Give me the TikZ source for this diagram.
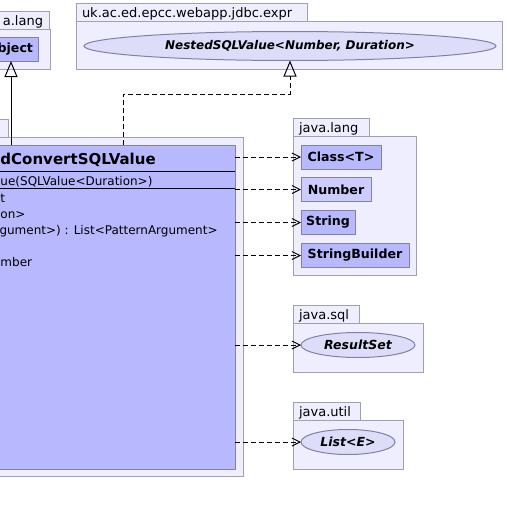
\documentclass[tikz,border=0pt]{standalone}
\usepackage{fontspec}
\setmainfont{DejaVu Sans}
\usetikzlibrary{arrows.meta,positioning,shapes}
\definecolor{pkg-color}{RGB}{238,238,255}
\definecolor{pkg-line}{RGB}{160,160,180}
\definecolor{cls-color}{RGB}{184,184,255}
\definecolor{abs-color}{RGB}{204,204,255}
\definecolor{cls-line}{RGB}{128,128,168}
\definecolor{ifc-color}{RGB}{221,221,250}
\tikzset{
  pkg/.style={draw=pkg-line, fill=pkg-color, rectangle, inner sep=0, outer sep=0},
  pkgtab/.style={pkg, minimum height=18pt, inner xsep=6pt,
    font=\fontsize{13}{15}\selectfont, text height=11pt, text depth=1pt},
  cls/.style={draw=cls-line, fill=cls-color, rectangle, inner sep=0, outer sep=0,
    minimum height=24pt, font=\bfseries\fontsize{12.6}{14}\selectfont},
  ifc/.style={draw=cls-line, fill=ifc-color, ellipse, inner sep=0, outer sep=0,
    font=\bfseries\itshape\fontsize{12.5}{14}\selectfont},
  member/.style={inner sep=0, anchor=base west, font=\fontsize{12}{14}\selectfont},
  sep/.style={draw=black},
  dep/.style={draw=black, dash pattern=on 5pt off 3pt,
    -{Straight Barb[length=8pt, width=8pt]}},
  realize/.style={draw=black, dash pattern=on 5pt off 3pt,
    -{Triangle[open, length=16pt, width=13pt]}},
  extends/.style={draw=black, -{Triangle[open, length=16pt, width=13pt]}}
}
\begin{document}
\begin{tikzpicture}[x=1pt, y=-1pt, line width=1pt]
  \useasboundingbox (0,0) rectangle (506,514);
  \clip (0,0) rectangle (506,514);

  % packages
  \node[pkgtab, anchor=south east, text width=78pt, align=right] (langTabA) at (49,29) {a.lang};
  \node[pkg, anchor=north east, minimum width=90pt, minimum height=40pt] (langPkgA) at (50,29) {};
  \node[pkgtab, anchor=south west, text width=219pt, align=left] (exprTab) at (76,21) {uk.ac.ed.epcc.webapp.jdbc.expr};
  \node[pkg, anchor=north west, minimum width=426pt, minimum height=48pt] (exprPkg) at (76,21) {};
  \node[pkgtab, anchor=south east, minimum width=18pt] (convTab) at (8,137) {};
  \node[pkg, anchor=north east, minimum width=253pt, minimum height=339pt] (convPkg) at (243,137) {};
  \node[pkgtab, anchor=south west, text width=64pt, align=left] (langTabB) at (293,136) {java.lang};
  \node[pkg, anchor=north west, minimum width=123pt, minimum height=139pt] (langPkgB) at (293,136) {};
  \node[pkgtab, anchor=south west, text width=54pt, align=left] (sqlTab) at (293,323) {java.sql};
  \node[pkg, anchor=north west, minimum width=130pt, minimum height=49pt] (sqlPkg) at (293,323) {};
  \node[pkgtab, anchor=south west, text width=55pt, align=left] (utilTab) at (293,420) {java.util};
  \node[pkg, anchor=north west, minimum width=110pt, minimum height=49pt] (utilPkg) at (293,420) {};

  % classes
  \node[cls, anchor=east, minimum width=54pt, text width=44pt, align=right] (object) at (38,49) {bject};
  \node[ifc, minimum width=412pt, minimum height=29pt, font=\bfseries\itshape\fontsize{12}{14}\selectfont] (nested) at (290,46) {NestedSQLValue<Number, Duration>};
  \node[cls, anchor=north east, minimum width=260pt, minimum height=324pt] (conv) at (235,145) {};
  \node[member, font=\bfseries\fontsize{15}{18}\selectfont] (convName) at (0,164) {dConvertSQLValue};
  \draw[sep] ([yshift=-26pt]conv.north west) -- ([yshift=-26pt]conv.north east);
  \node[member] (convCtor) at (0,185) {ue(SQLValue<Duration>)};
  \draw[sep] ([yshift=-43pt]conv.north west) -- ([yshift=-43pt]conv.north east);
  \node[member] (convM1) at (0,202) {t};
  \node[member] (convM2) at (0,218) {on>};
  \node[member] (convM3) at (-1,234) {gument>) : List<PatternArgument>};
  \node[member] (convM4) at (0,266) {mber};

  \node[cls, anchor=west, minimum width=80pt] (classT) at (301,157) {Class<T>};
  \node[cls, anchor=west, minimum width=70pt, fill=abs-color] (number) at (301,189.5) {Number};
  \node[cls, anchor=west, minimum width=54pt] (string) at (301,222.5) {String};
  \node[cls, anchor=west, minimum width=108pt] (builder) at (301,255.5) {StringBuilder};
  \node[ifc, anchor=west, minimum width=114pt, minimum height=25pt] (resultSet) at (301,345) {ResultSet};
  \node[ifc, anchor=west, minimum width=94pt, minimum height=25pt] (list) at (301,442) {List<E>};

  % relations
  \draw[extends] (object.south |- conv.north) -- (object.south);
  \draw[realize] ([xshift=-112pt]conv.north east) -- ++(0,-51) -| (nested.south);
  \draw[dep] (conv.east |- classT) -- (classT);
  \draw[dep] (conv.east |- number) -- (number);
  \draw[dep] (conv.east |- string) -- (string);
  \draw[dep] (conv.east |- builder) -- (builder);
  \draw[dep] (conv.east |- resultSet) -- (resultSet);
  \draw[dep] (conv.east |- list) -- (list);
\end{tikzpicture}
\end{document}
